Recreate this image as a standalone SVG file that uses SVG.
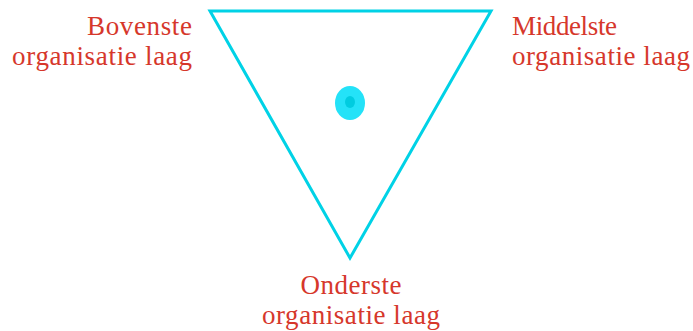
<svg xmlns="http://www.w3.org/2000/svg" width="693" height="331" viewBox="0 0 693 331">
<style>
.lbl{font-family:"Liberation Serif","DejaVu Serif",serif;font-size:27px;fill:#d6372b}
</style>
<rect width="693" height="331" fill="#fff"/>
<g id="triangle">
<polygon points="210,11 491,11 350,258" fill="none" stroke="#00d2e6" stroke-width="3"/>
</g>
<g id="dot">
<ellipse cx="350" cy="103" rx="15" ry="17" fill="#24e2f8"/>
<ellipse cx="350" cy="102" rx="5" ry="6" fill="#00cce0"/>
</g>
<g id="top-left">
<text class="lbl" x="192" y="35" text-anchor="end" textLength="105">Bovenste</text>
<text class="lbl" x="192" y="65" text-anchor="end" textLength="180">organisatie laag</text>
</g>
<g id="top-right">
<text class="lbl" x="512" y="35" textLength="105">Middelste</text>
<text class="lbl" x="512" y="65" textLength="178">organisatie laag</text>
</g>
<g id="bottom">
<text class="lbl" x="351" y="294" text-anchor="middle" textLength="101">Onderste</text>
<text class="lbl" x="351" y="324" text-anchor="middle" textLength="178">organisatie laag</text>
</g>
</svg>
